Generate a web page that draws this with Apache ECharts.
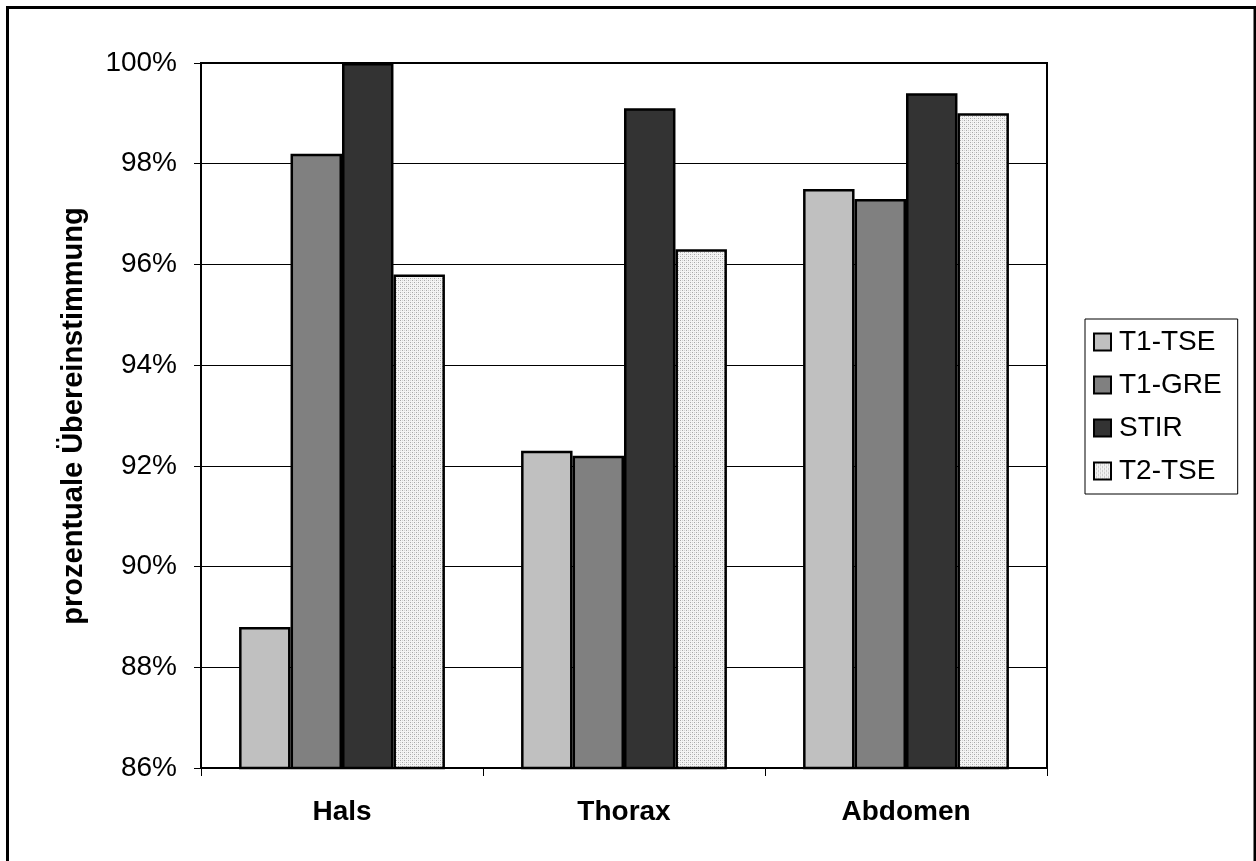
<!DOCTYPE html>
<html>
<head>
<meta charset="utf-8">
<script src="https://cdn.jsdelivr.net/npm/echarts@6/dist/echarts.min.js"></script>
<style>
html,body{margin:0;padding:0;background:#fff;}
#chart{width:1256px;height:861px;}
</style>
</head>
<body>
<div id="chart"></div>
<script>
var categories = ['Hals', 'Thorax', 'Abdomen'];
var seriesNames = ['T1-TSE', 'T1-GRE', 'STIR', 'T2-TSE'];
var t1tse = [88.8, 92.3, 97.5];
var t1gre = [98.2, 92.2, 97.3];
var stir = [100.0, 99.1, 99.4];
var t2tse = [95.8, 96.3, 99.0];
var yTicks = [86, 88, 90, 92, 94, 96, 98, 100];

var FONT = 'Liberation Sans, Arial, sans-serif';

// dotted pattern for T2-TSE
var pc = document.createElement('canvas');
pc.width = 4; pc.height = 4;
var pctx = pc.getContext('2d');
pctx.fillStyle = '#f4f4f4';
pctx.fillRect(0, 0, 4, 4);
pctx.fillStyle = '#a8a8a8';
pctx.fillRect(0, 0, 1, 1);
pctx.fillRect(2, 2, 1, 1);
pctx.fillStyle = '#d4d4d4';
pctx.fillRect(2, 0, 1, 1);
pctx.fillRect(0, 2, 1, 1);

var fills = ['#c0c0c0', '#808080', '#333333', {image: pc, repeat: 'repeat'}];
var dataArr = [t1tse, t1gre, stir, t2tse];

var chart = echarts.init(document.getElementById('chart'), null, {renderer: 'canvas'});

var series = seriesNames.map(function (n, i) {
  return {
    name: n,
    type: 'bar',
    data: dataArr[i],
    barGap: '0%',
    barCategoryGap: '27%',
    itemStyle: {color: fills[i], borderColor: '#000', borderWidth: 2.5},
    emphasis: {disabled: true}
  };
});

chart.setOption({
  animation: false,
  backgroundColor: '#fff',
  textStyle: {fontFamily: FONT},
  grid: {left: 201, right: 209, top: 63, bottom: 93, show: true, borderColor: '#000', borderWidth: 2, backgroundColor: 'transparent'},
  legend: {
    orient: 'vertical',
    left: 1085, top: 319,
    data: seriesNames,
    icon: 'rect',
    itemWidth: 17, itemHeight: 17,
    itemGap: 15,
    padding: [9, 16, 9, 8],
    borderColor: '#000', borderWidth: 1,
    backgroundColor: '#fff',
    itemStyle: {borderColor: '#000', borderWidth: 2},
    textStyle: {fontFamily: FONT, fontSize: 28, color: '#000', padding: [0, 0, 0, 3]},
    selectedMode: false
  },
  xAxis: {
    type: 'category',
    data: categories,
    axisLine: {lineStyle: {color: '#000', width: 2}},
    axisTick: {show: true, alignWithLabel: false, length: 8, lineStyle: {color: '#000', width: 1}},
    axisLabel: {fontFamily: FONT, fontSize: 28, fontWeight: 'bold', color: '#000', margin: 30}
  },
  yAxis: {
    type: 'value',
    min: yTicks[0], max: yTicks[yTicks.length - 1], interval: 2,
    axisLine: {show: true, lineStyle: {color: '#000', width: 2}},
    axisTick: {show: true, length: 7, lineStyle: {color: '#000', width: 1}},
    axisLabel: {fontFamily: FONT, fontSize: 28, color: '#000', margin: 24,
      formatter: function (v) { return v + '%'; }},
    splitLine: {show: true, lineStyle: {color: '#000', width: 1}}
  },
  graphic: [
    {type: 'rect', shape: {x: 7.5, y: 7.5, width: 1247.5, height: 900}, style: {fill: 'none', stroke: '#000', lineWidth: 3}, silent: true, z: 100},
    {type: 'text', x: 74, y: 416, rotation: Math.PI / 2,
      style: {text: 'prozentuale Übereinstimmung', fontFamily: FONT, fontSize: 29, fontWeight: 'bold', fill: '#000', align: 'center', verticalAlign: 'middle'}}
  ],
  series: series
});
</script>
</body>
</html>
